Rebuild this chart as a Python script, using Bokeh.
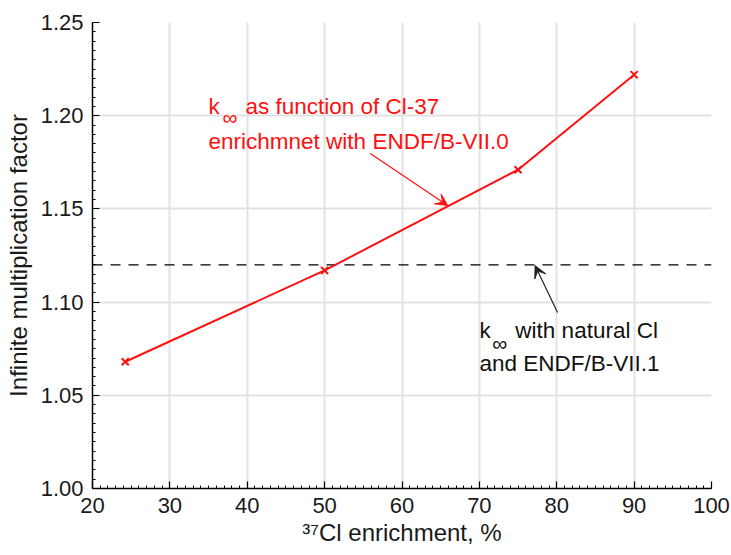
from bokeh.plotting import figure
from bokeh.models import (Range1d, SingleIntervalTicker, PrintfTickFormatter,
                          Arrow, VeeHead, Label, ColumnDataSource)
from bokeh.embed import file_html
from bokeh.resources import INLINE

# ---- data ----
enrichment = [24.23, 50, 75, 90]          # Cl-37 enrichment, %
k_inf = [1.068, 1.117, 1.171, 1.222]      # k-infinity (ENDF/B-VII.0)
k_natural = 1.120                          # k-infinity, natural Cl, ENDF/B-VII.1
x_limits = [20, 100]
y_limits = [1.00, 1.25]

FONT = "Liberation Sans"

p = figure(width=731, height=555, output_backend="svg", toolbar_location=None,
           x_range=Range1d(*x_limits), y_range=Range1d(*y_limits),
           min_border_left=92, min_border_right=20, min_border_top=22,
           min_border_bottom=67)
p.outline_line_color = None
p.background_fill_color = "white"
p.border_fill_color = "white"

# axes
p.xaxis.ticker = SingleIntervalTicker(interval=10, num_minor_ticks=10)
p.yaxis.ticker = SingleIntervalTicker(interval=0.05, num_minor_ticks=10)
p.yaxis.formatter = PrintfTickFormatter(format="%.2f")
for ax in (p.xaxis[0], p.yaxis[0]):
    ax.major_tick_in = 7
    ax.major_tick_out = 0
    ax.minor_tick_in = 3
    ax.minor_tick_out = 0
    ax.axis_line_color = "black"
    ax.axis_line_width = 1.5
    ax.major_tick_line_color = "black"
    ax.major_tick_line_width = 1.2
    ax.minor_tick_line_color = "black"
    ax.minor_tick_line_width = 1
    ax.major_label_text_font = FONT
    ax.major_label_text_font_size = "22px"
    ax.major_label_text_color = "#1a1a1a"
    ax.axis_label_text_font = FONT
    ax.axis_label_text_font_size = "24px"
    ax.axis_label_text_font_style = "normal"
    ax.axis_label_text_color = "#1a1a1a"
p.yaxis.axis_label = "Infinite multiplication factor"
p.xaxis.axis_label = "\u00b3\u2077Cl enrichment, %"
p.xaxis.major_label_standoff = 9
p.xaxis.axis_label_standoff = 3
p.yaxis.major_label_standoff = 9
p.yaxis.axis_label_standoff = 6

p.grid.grid_line_color = "#e2e2e2"
p.grid.grid_line_width = 2

# natural Cl reference line
p.line(x_limits, [k_natural, k_natural], line_color="black", line_width=1.3,
       line_dash="10 8")

# k-inf vs enrichment
src = ColumnDataSource(dict(x=enrichment, y=k_inf))
p.line("x", "y", source=src, line_color="#ff1010", line_width=2)
p.scatter("x", "y", source=src, marker="x", size=10, line_color="#ff1010",
          line_width=2)

# annotations
def lab(x, y, text, color, size="22.5px", baseline="alphabetic"):
    p.add_layout(Label(x=x, y=y, text=text, text_color=color, text_font=FONT,
                       text_font_size=size, text_baseline=baseline,
                       text_align="left"))

RED = "#ff1010"
lab(35.0, 1.2049, "k", RED)
lab(36.8, 1.1992, "\u221e", RED, size="21px")
lab(39.77, 1.2049, "as function of Cl-37", RED)
lab(35.0, 1.1862, "enrichmnet with ENDF/B-VII.0", RED)

BLK = "#111111"
lab(70.0, 1.0848, "k", BLK)
lab(71.68, 1.0780, "\u221e", BLK, size="21px")
lab(74.65, 1.0848, "with natural Cl", BLK)
lab(70.0, 1.0671, "and ENDF/B-VII.1", BLK)

p.add_layout(Arrow(x_start=55.9, y_start=1.1797, x_end=65.9, y_end=1.1518,
                   line_color=RED, line_width=1.2,
                   end=VeeHead(size=12, fill_color=RED, line_color=RED)))
p.add_layout(Arrow(x_start=80.1, y_start=1.0944, x_end=77.2, y_end=1.1196,
                   line_color="#222222", line_width=1.2,
                   end=VeeHead(size=12, fill_color="#222222", line_color="#222222")))

open("out.html", "w").write(file_html(p, INLINE))
